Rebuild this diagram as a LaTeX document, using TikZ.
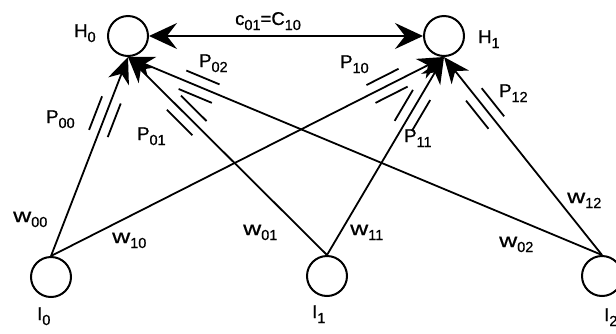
\documentclass[tikz,border=0pt]{standalone}
\usepackage{graphicx}
\usepackage{fontspec}
\setmainfont{Liberation Sans}[BoldFont=Liberation Sans, BoldFeatures={FakeBold=0.7}]
\usetikzlibrary{arrows.meta,calc}
\newcommand\lbl[2]{#1\raisebox{-5pt}{\fontsize{14.5}{14}\selectfont #2}}
\newcommand\wl[1]{\lbl{\scalebox{1.35}[1.05]{w}}{#1}}
\newcommand\pmarks[3]{%
  \coordinate (pmM) at ($(#1)!#3!(#2)$);
  \coordinate (pmS) at ($(pmM)!18pt!(#2)$);
  \coordinate (pmE) at ($(pmM)!-18pt!(#2)$);
  \draw[pmark] ($(pmS)!10pt!90:(#2)$) -- ($(pmE)!10pt!90:(#2)$);
  \draw[pmark] ($(pmS)!10pt!-90:(#2)$) -- ($(pmE)!10pt!-90:(#2)$);
}
\begin{document}
\begin{tikzpicture}[x=1pt,y=-1pt,
  unit/.style={circle,draw,fill=white,line width=2pt,minimum size=40pt,inner sep=0pt},
  conn/.style={line width=1.8pt,-{Stealth[length=26pt,width=22pt,inset=8pt]}},
  link/.style={line width=1.8pt,{Stealth[length=28pt,width=26pt,inset=10pt]}-{Stealth[length=28pt,width=26pt,inset=10pt]}},
  pmark/.style={line width=1.8pt},
  lab/.style={inner sep=0pt,anchor=base west,font=\fontsize{18.5}{20}\selectfont\bfseries}]
\useasboundingbox (0,0) rectangle (616,333);
% units
\node[unit] (H0) at (128,36) {};
\node[unit] (H1) at (444,36) {};
\node[unit] (I0) at (51,277) {};
\node[unit] (I1) at (327,276) {};
\node[unit] (I2) at (602,276) {};
% connections
\draw[conn] (I0.north) -- (H0.south);
\draw[conn] (I1.north) -- (H0.south);
\draw[conn] (I2.north) -- (H0.south);
\draw[conn] (I0.north) -- (H1.south);
\draw[conn] (I1.north) -- (H1.south);
\draw[conn] (I2.north) -- (H1.south);
\draw[link] (H0.east) -- (H1.west);
% marks
\pmarks{I0.north}{H0.south}{0.70}
\pmarks{I1.north}{H0.south}{0.705}
\pmarks{I2.north}{H0.south}{0.85}
\pmarks{I0.north}{H1.south}{0.855}
\pmarks{I1.north}{H1.south}{0.73}
\pmarks{I2.north}{H1.south}{0.74}
% labels
\node[lab] (lH0) at (74,37) {\lbl{H}{0}};
\node[lab] (lH1) at (478,43) {\lbl{H}{1}};
\node[lab] (lI0) at (37,320) {\lbl{I}{0}};
\node[lab] (lI1) at (312,318) {\lbl{I}{1}};
\node[lab] (lI2) at (604,321) {\lbl{I}{2}};
\node[lab] (lc) at (235,25) {\lbl{c}{01}=\lbl{C}{10}};
\node[lab] (lP00) at (46,123) {\lbl{P}{00}};
\node[lab] (lP01) at (137,140) {\lbl{P}{01}};
\node[lab] (lP02) at (199,67) {\lbl{P}{02}};
\node[lab] (lP10) at (340,68) {\lbl{P}{10}};
\node[lab] (lP11) at (404,142) {\lbl{P}{11}};
\node[lab] (lP12) at (499,97) {\lbl{P}{12}};
\node[lab] (lw00) at (13,222) {\wl{00}};
\node[lab] (lw10) at (112,243) {\wl{10}};
\node[lab] (lw01) at (243,235) {\wl{01}};
\node[lab] (lw11) at (350,235) {\wl{11}};
\node[lab] (lw02) at (499,247) {\wl{02}};
\node[lab] (lw12) at (567,203) {\wl{12}};
\end{tikzpicture}
\end{document}
